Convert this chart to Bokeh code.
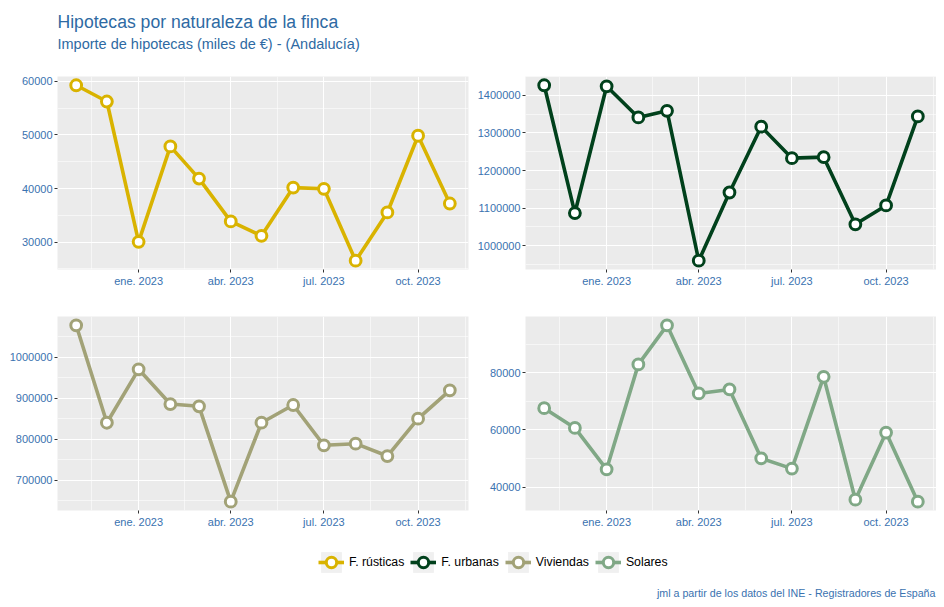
import pandas as pd
from bokeh.plotting import figure
from bokeh.layouts import column, row
from bokeh.models import (Range1d, FixedTicker, CustomJSTickFormatter, NumeralTickFormatter,
                          Label, Legend, LegendItem)
from bokeh.embed import file_html
from bokeh.resources import INLINE

# ---------------- data ----------------
months = ["2022-11-01", "2022-12-01", "2023-01-01", "2023-02-01", "2023-03-01", "2023-04-01",
          "2023-05-01", "2023-06-01", "2023-07-01", "2023-08-01", "2023-09-01", "2023-10-01",
          "2023-11-01"]
rusticas = [59260, 56230, 30060, 47860, 41860, 33870, 31190, 40180, 39950, 26540, 35540, 49850, 37210]
urbanas = [1426400, 1087000, 1423700, 1341000, 1358600, 960400, 1141600, 1316400, 1232800,
           1235500, 1057200, 1107300, 1343600]
viviendas = [1077100, 840100, 970100, 885600, 880000, 648000, 840100, 883200, 785200, 789100,
             759100, 849900, 919000]
solares = [67610, 60700, 46210, 82950, 96630, 72770, 74180, 50070, 46460, 78600, 35580, 59090, 34880]

series_names = ["F. rústicas", "F. urbanas", "Viviendas", "Solares"]
series_colors = ["#D9B300", "#01411C", "#A2A277", "#80A886"]

x_tick_dates = ["2023-01-01", "2023-04-01", "2023-07-01", "2023-10-01"]
x_tick_labels = ["ene. 2023", "abr. 2023", "jul. 2023", "oct. 2023"]
x_minor_edges = ["2022-10-01", "2024-01-01"]   # breaks just outside the range (for minor grid)

y_ticks_rusticas = [30000, 40000, 50000, 60000]
y_ticks_urbanas = [1000000, 1100000, 1200000, 1300000, 1400000]
y_ticks_viviendas = [700000, 800000, 900000, 1000000]
y_ticks_solares = [40000, 60000, 80000]

title_text = "Hipotecas por naturaleza de la finca"
subtitle_text = "Importe de hipotecas (miles de €) - (Andalucía)"
caption_text = "jml a partir de los datos del INE - Registradores de España"

# ---------------- helpers ----------------
FONT = "Liberation Sans"
BLUE = "#3A72B0"
TITLE_BLUE = "#2E6AA3"


def to_ms(dates):
    return [float(v) for v in (pd.to_datetime(dates).astype("int64") // 10**6)]


x_ms = to_ms(months)
xt_ms = to_ms(x_tick_dates)
edges = to_ms(x_minor_edges)
all_major = [edges[0]] + xt_ms + [edges[1]]
x_minor = [(a + b) / 2 for a, b in zip(all_major[:-1], all_major[1:])]

x_span = max(x_ms) - min(x_ms)
x_lo, x_hi = min(x_ms) - 0.05 * x_span, max(x_ms) + 0.05 * x_span


def y_minor(ticks):
    step = ticks[1] - ticks[0]
    ext = [ticks[0] - step] + ticks + [ticks[-1] + step]
    return [(a + b) / 2 for a, b in zip(ext[:-1], ext[1:])]


def panel(vals, color, yticks, b_left, b_right, b_top, b_bottom, fh):
    lo, hi = min(vals), max(vals)
    sp = hi - lo
    p = figure(frame_width=411, frame_height=fh,
               x_range=Range1d(x_lo, x_hi), y_range=Range1d(lo - 0.05 * sp, hi + 0.05 * sp),
               min_border_left=b_left, min_border_right=b_right,
               min_border_top=b_top, min_border_bottom=b_bottom,
               toolbar_location=None, output_backend="svg")
    p.background_fill_color = "#EBEBEB"
    p.border_fill_color = "white"
    p.outline_line_color = None

    p.xaxis.ticker = FixedTicker(ticks=xt_ms, minor_ticks=x_minor)
    p.xaxis.formatter = CustomJSTickFormatter(
        args=dict(vals=xt_ms, labs=x_tick_labels),
        code="const i = vals.indexOf(tick); return i >= 0 ? labs[i] : '';")
    p.yaxis.ticker = FixedTicker(ticks=yticks, minor_ticks=y_minor(yticks))
    p.yaxis.formatter = NumeralTickFormatter(format="0")

    for ax in (p.xaxis[0], p.yaxis[0]):
        ax.axis_line_color = None
        ax.major_tick_line_color = "#333333"
        ax.major_tick_out = 3
        ax.major_tick_in = 0
        ax.minor_tick_out = 0
        ax.minor_tick_in = 0
        ax.major_label_standoff = 2
        ax.major_label_text_font = FONT
        ax.major_label_text_font_size = "11px"
        ax.major_label_text_color = BLUE

    for g in (p.xgrid[0], p.ygrid[0]):
        g.grid_line_color = "white"
        g.grid_line_width = 1.1
        g.minor_grid_line_color = "white"
        g.minor_grid_line_width = 0.55

    p.line(x_ms, vals, line_color=color, line_width=3.6)
    p.scatter(x_ms, vals, marker="circle", size=10.8, fill_color="white",
              line_color=color, line_width=3)
    return p


p1 = panel(rusticas, series_colors[0], y_ticks_rusticas, 57, 2, 8, 39, 193)
p2 = panel(urbanas, series_colors[1], y_ticks_urbanas, 55, 0, 8, 39, 193)
p3 = panel(viviendas, series_colors[2], y_ticks_viviendas, 57, 2, 8, 30, 194)
p4 = panel(solares, series_colors[3], y_ticks_solares, 55, 0, 8, 30, 194)

# ---------------- header ----------------
header = figure(width=936, height=68, x_range=Range1d(0, 936), y_range=Range1d(68, 0),
                min_border=0, toolbar_location=None, output_backend="svg",
                x_axis_location=None, y_axis_location=None)
header.grid.visible = False
header.outline_line_color = None
header.add_layout(Label(x=57, y=21, text=title_text, text_font=FONT, text_font_size="17.6px",
                        text_color=TITLE_BLUE, text_baseline="alphabetic"))
header.add_layout(Label(x=57, y=43.3, text=subtitle_text, text_font=FONT, text_font_size="14.5px",
                        text_color=TITLE_BLUE, text_baseline="alphabetic"))

# ---------------- legend + caption ----------------
foot = figure(width=936, height=65, x_range=Range1d(0, 936), y_range=Range1d(65, 0),
              min_border=0, toolbar_location=None, output_backend="svg",
              x_axis_location=None, y_axis_location=None)
foot.grid.visible = False
foot.outline_line_color = None

# legend-only copies of the series (they fall far outside this strip's ranges)
items = []
for name, col, vals in zip(series_names, series_colors, [rusticas, urbanas, viviendas, solares]):
    r_bg = foot.rect(x=x_ms, y=vals, width=1, height=1, fill_color="#F0F0F0", line_color=None)
    r_ln = foot.line(x=x_ms, y=vals, line_color=col, line_width=3.6)
    r_pt = foot.scatter(x=x_ms, y=vals, marker="circle", size=10.4, fill_color="white",
                        line_color=col, line_width=3)
    items.append(LegendItem(label=name, renderers=[r_bg, r_ln, r_pt]))

legend = Legend(items=items, orientation="horizontal", location=(318, 30),
                border_line_color=None, background_fill_alpha=0, padding=0, margin=0,
                spacing=6, label_standoff=5, glyph_width=26, glyph_height=26,
                label_text_font=FONT, label_text_font_size="12.3px", label_text_color="black")
foot.add_layout(legend)

foot.add_layout(Label(x=935, y=52.5, text=caption_text, text_font=FONT, text_font_size="10.7px",
                      text_color=BLUE, text_align="right", text_baseline="alphabetic"))

layout = column(header, row(p1, p2), row(p3, p4), foot)

open("out.html", "w").write(file_html(layout, INLINE))
